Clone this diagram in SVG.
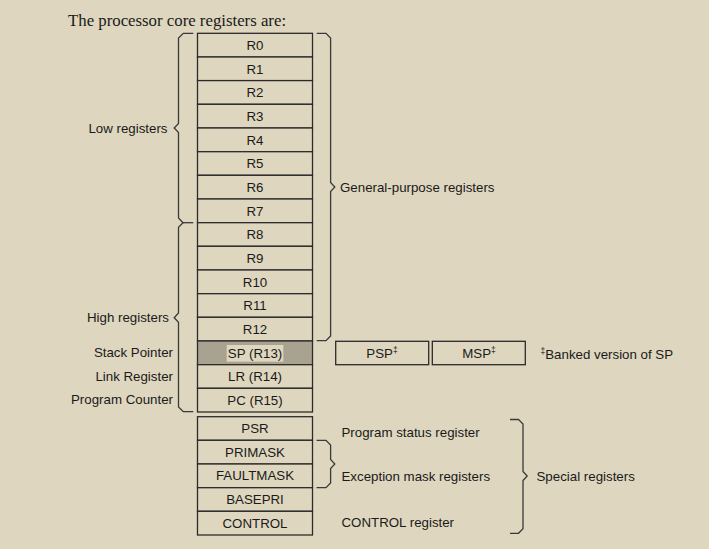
<svg xmlns="http://www.w3.org/2000/svg" width="709" height="549" viewBox="0 0 709 549">
<style>
.bg{fill:#ded6be}
.cell{fill:#ded6be;stroke:#2b2b2b;stroke-width:1.3}
.sp{fill:#a9a290;stroke:#2b2b2b;stroke-width:1.3}
.t{font-family:"Liberation Sans",Arial,sans-serif;font-size:13.3px;fill:#1a1a1a}
.c{text-anchor:middle}
.r{text-anchor:end}
.sup{font-size:8.5px}
.title{font-family:"Liberation Serif","Times New Roman",serif;font-size:16.8px;fill:#1a1a1a}
.br{fill:none;stroke:#3a3a3a;stroke-width:1.3;stroke-linejoin:miter}
</style>
<rect class="bg" x="0" y="0" width="709" height="549"/>
<text class="title" x="68" y="25.5">The processor core registers are:</text>

<g id="core-registers">
<g id="r0"><rect class="cell" x="197.5" y="33.3" width="115" height="23.7"/><text class="t c" x="255" y="49.8">R0</text></g>
<g id="r1"><rect class="cell" x="197.5" y="57.0" width="115" height="23.6"/><text class="t c" x="255" y="73.5">R1</text></g>
<g id="r2"><rect class="cell" x="197.5" y="80.6" width="115" height="23.7"/><text class="t c" x="255" y="97.1">R2</text></g>
<g id="r3"><rect class="cell" x="197.5" y="104.3" width="115" height="23.7"/><text class="t c" x="255" y="120.8">R3</text></g>
<g id="r4"><rect class="cell" x="197.5" y="128.0" width="115" height="23.7"/><text class="t c" x="255" y="144.5">R4</text></g>
<g id="r5"><rect class="cell" x="197.5" y="151.7" width="115" height="23.6"/><text class="t c" x="255" y="168.2">R5</text></g>
<g id="r6"><rect class="cell" x="197.5" y="175.3" width="115" height="23.7"/><text class="t c" x="255" y="191.8">R6</text></g>
<g id="r7"><rect class="cell" x="197.5" y="199.0" width="115" height="23.7"/><text class="t c" x="255" y="215.5">R7</text></g>
<g id="r8"><rect class="cell" x="197.5" y="222.7" width="115" height="23.6"/><text class="t c" x="255" y="239.2">R8</text></g>
<g id="r9"><rect class="cell" x="197.5" y="246.3" width="115" height="23.7"/><text class="t c" x="255" y="262.8">R9</text></g>
<g id="r10"><rect class="cell" x="197.5" y="270.0" width="115" height="23.7"/><text class="t c" x="255" y="286.5">R10</text></g>
<g id="r11"><rect class="cell" x="197.5" y="293.7" width="115" height="23.6"/><text class="t c" x="255" y="310.2">R11</text></g>
<g id="r12"><rect class="cell" x="197.5" y="317.3" width="115" height="23.7"/><text class="t c" x="255" y="333.8">R12</text></g>
<g id="sp"><rect class="sp" x="197.5" y="341.0" width="115" height="23.7"/><rect class="bg" x="226.7" y="345" width="56.6" height="16.7"/><text class="t c" x="255" y="357.5">SP (R13)</text></g>
<g id="lr"><rect class="cell" x="197.5" y="364.7" width="115" height="23.6"/><text class="t c" x="255" y="381.2">LR (R14)</text></g>
<g id="pc"><rect class="cell" x="197.5" y="388.3" width="115" height="23.7"/><text class="t c" x="255" y="404.8">PC (R15)</text></g>
</g>

<g id="special-registers">
<g id="psr"><rect class="cell" x="197.5" y="416.7" width="115" height="23.6"/><text class="t c" x="255" y="433">PSR</text></g>
<g id="primask"><rect class="cell" x="197.5" y="440.3" width="115" height="23.7"/><text class="t c" x="255" y="456.6">PRIMASK</text></g>
<g id="faultmask"><rect class="cell" x="197.5" y="464.0" width="115" height="23.7"/><text class="t c" x="255" y="480.3">FAULTMASK</text></g>
<g id="basepri"><rect class="cell" x="197.5" y="487.7" width="115" height="23.6"/><text class="t c" x="255" y="504">BASEPRI</text></g>
<g id="control"><rect class="cell" x="197.5" y="511.3" width="115" height="23.7"/><text class="t c" x="255" y="527.6">CONTROL</text></g>
</g>

<g id="psp"><rect class="cell" x="335.7" y="341.3" width="93" height="23.4"/><text class="t c" x="382" y="357.6">PSP<tspan class="sup" dy="-5">‡</tspan></text></g>
<g id="msp"><rect class="cell" x="432.3" y="341.3" width="93" height="23.4"/><text class="t c" x="479" y="357.6">MSP<tspan class="sup" dy="-5">‡</tspan></text></g>

<g id="connectors">
<path class="br" d="M193.3 33.3 H183.3 L178.5 38 V123.5 L174.2 128 L178.5 132.5 V218 L183 222.7 L178.5 227.2 V313 L174.2 317.7 L178.5 322.2 V407 L183.3 411.7 H193.3"/>
<path class="br" d="M183 222.7 H193.3"/>
<path class="br" d="M316.7 33.3 H326 L330.6 38 V182.5 L334.8 187 L330.6 191.5 V336 L326 340.7 H316.7"/>
<path class="br" d="M316.5 440.3 H326 L330.6 445 V459.5 L334.8 464 L330.6 468.5 V483 L326 487.7 H316.5"/>
<path class="br" d="M510 419.5 H518.5 L523 424 V471.5 L527.2 476 L523 480.5 V528.8 L518.5 533.3 H510"/>
</g>

<g id="labels">
<text class="t r" x="167.5" y="133">Low registers</text>
<text class="t r" x="169" y="322">High registers</text>
<text class="t r" x="173" y="357">Stack Pointer</text>
<text class="t r" x="173" y="380.7">Link Register</text>
<text class="t r" x="173" y="404">Program Counter</text>
<text class="t" x="340" y="191.7">General-purpose registers</text>
<text class="t" x="540.5" y="358.5"><tspan class="sup" dy="-5">‡</tspan><tspan dy="5">Banked version of SP</tspan></text>
<text class="t" x="341.5" y="436.7">Program status register</text>
<text class="t" x="341.5" y="481">Exception mask registers</text>
<text class="t" x="341.5" y="527">CONTROL register</text>
<text class="t" x="536.5" y="481">Special registers</text>
</g>
</svg>
